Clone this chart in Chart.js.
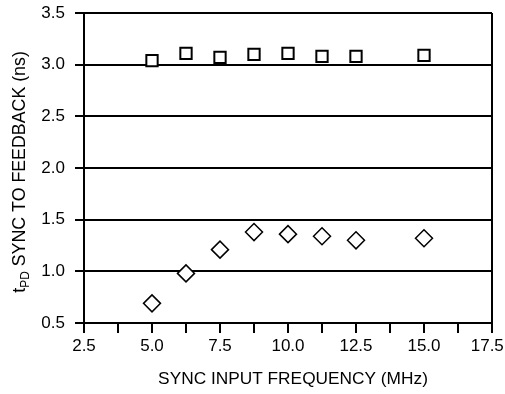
<!DOCTYPE html>
<html lang="en">
<head>
    <meta charset="UTF-8">
    <title>tPD Sync to Feedback vs Sync Input Frequency</title>
    <script src="https://cdn.jsdelivr.net/npm/chart.js"></script>
    <style>
        body {
            margin: 0;
            padding: 0;
            background: #ffffff;
        }

        .chart-box {
            width: 505px;
            height: 394px;
        }
    </style>
</head>
<body>
    <div class="chart-box">
        <canvas id="tpdChart"></canvas>
    </div>

    <script>
        // values
        const syncFreq = [5.0, 6.25, 7.5, 8.75, 10.0, 11.25, 12.5, 15.0];
        const tpdUpper = [3.04, 3.11, 3.07, 3.10, 3.11, 3.08, 3.08, 3.09];
        const tpdLower = [0.69, 0.98, 1.21, 1.38, 1.36, 1.34, 1.30, 1.32];

        const xTitle = "SYNC INPUT FREQUENCY (MHz)";
        const yTitleMain = "t";
        const yTitleSub = "PD";
        const yTitleRest = " SYNC TO FEEDBACK (ns)";

        const fontFamily = "'Liberation Sans', Arial, sans-serif";
        Chart.defaults.font.family = fontFamily;
        Chart.defaults.font.size = 17;
        Chart.defaults.color = '#000';

        const toPoints = (xs, ys) => xs.map((x, i) => ({ x: x, y: ys[i] }));

        // axis titles drawn by hand so the y title can carry its subscript
        const axisTitles = {
            id: 'axisTitles',
            afterDraw(chart) {
                const { ctx, chartArea } = chart;
                ctx.save();
                ctx.fillStyle = '#000';
                ctx.textBaseline = 'alphabetic';

                // x title
                ctx.font = '17.3px ' + fontFamily;
                ctx.textAlign = 'center';
                ctx.fillText(xTitle, (chartArea.left + chartArea.right) / 2 + 5, chartArea.bottom + 61);

                // y title, rotated, with subscript
                const big = '17.8px ' + fontFamily;
                const small = '12px ' + fontFamily;
                ctx.font = big;
                const w1 = ctx.measureText(yTitleMain).width;
                const w3 = ctx.measureText(yTitleRest).width;
                ctx.font = small;
                const w2 = ctx.measureText(yTitleSub).width;
                const total = w1 + w2 + w3;

                ctx.translate(chartArea.left - 59, (chartArea.top + chartArea.bottom) / 2 + 4);
                ctx.rotate(-Math.PI / 2);
                ctx.textAlign = 'left';
                let x = -total / 2;
                ctx.font = big;
                ctx.fillText(yTitleMain, x, 0);
                x += w1;
                ctx.font = small;
                ctx.fillText(yTitleSub, x, 4);
                x += w2;
                ctx.font = big;
                ctx.fillText(yTitleRest, x, 0);
                ctx.restore();
            }
        };

        new Chart(document.getElementById('tpdChart'), {
            type: 'scatter',
            data: {
                datasets: [
                    {
                        label: 'upper',
                        data: toPoints(syncFreq, tpdUpper),
                        pointStyle: 'rect',
                        pointRadius: 8,
                        pointHoverRadius: 8,
                        borderColor: '#000',
                        backgroundColor: '#fff',
                        borderWidth: 2
                    },
                    {
                        label: 'lower',
                        data: toPoints(syncFreq, tpdLower),
                        pointStyle: 'rectRot',
                        pointRadius: 8.5,
                        pointHoverRadius: 8.5,
                        borderColor: '#000',
                        backgroundColor: '#fff',
                        borderWidth: 1.5
                    }
                ]
            },
            options: {
                responsive: true,
                maintainAspectRatio: false,
                animation: false,
                layout: {
                    padding: { top: 13, right: 13, left: 0, bottom: 0 }
                },
                plugins: {
                    legend: { display: false },
                    tooltip: { enabled: false }
                },
                scales: {
                    x: {
                        type: 'linear',
                        min: 2.5,
                        max: 17.5,
                        afterFit: scale => { scale.height = 71; scale.paddingRight = 0; scale.paddingLeft = 0; },
                        border: { display: true, color: '#000', width: 2 },
                        grid: {
                            color: ctx => (ctx.tick && ctx.tick.value === 17.5) ? '#000' : 'rgba(0,0,0,0)',
                            tickColor: '#000',
                            lineWidth: 2,
                            tickWidth: 2,
                            tickLength: 10
                        },
                        ticks: {
                            stepSize: 1.25,
                            autoSkip: false,
                            maxRotation: 0,
                            padding: 3,
                            callback: v => {
                                if (v % 2.5 !== 0) return '';
                                return v === 17.5 ? v.toFixed(1) + '  ' : v.toFixed(1);
                            }
                        }
                    },
                    y: {
                        min: 0.5,
                        max: 3.5,
                        afterFit: scale => { scale.width = 84; scale.paddingTop = 0; scale.paddingBottom = 0; },
                        border: { display: true, color: '#000', width: 2 },
                        grid: {
                            color: '#000',
                            lineWidth: 2,
                            tickLength: 9
                        },
                        ticks: {
                            stepSize: 0.5,
                            padding: 10,
                            callback: v => v.toFixed(1)
                        }
                    }
                }
            },
            plugins: [axisTitles]
        });
    </script>
</body>
</html>
